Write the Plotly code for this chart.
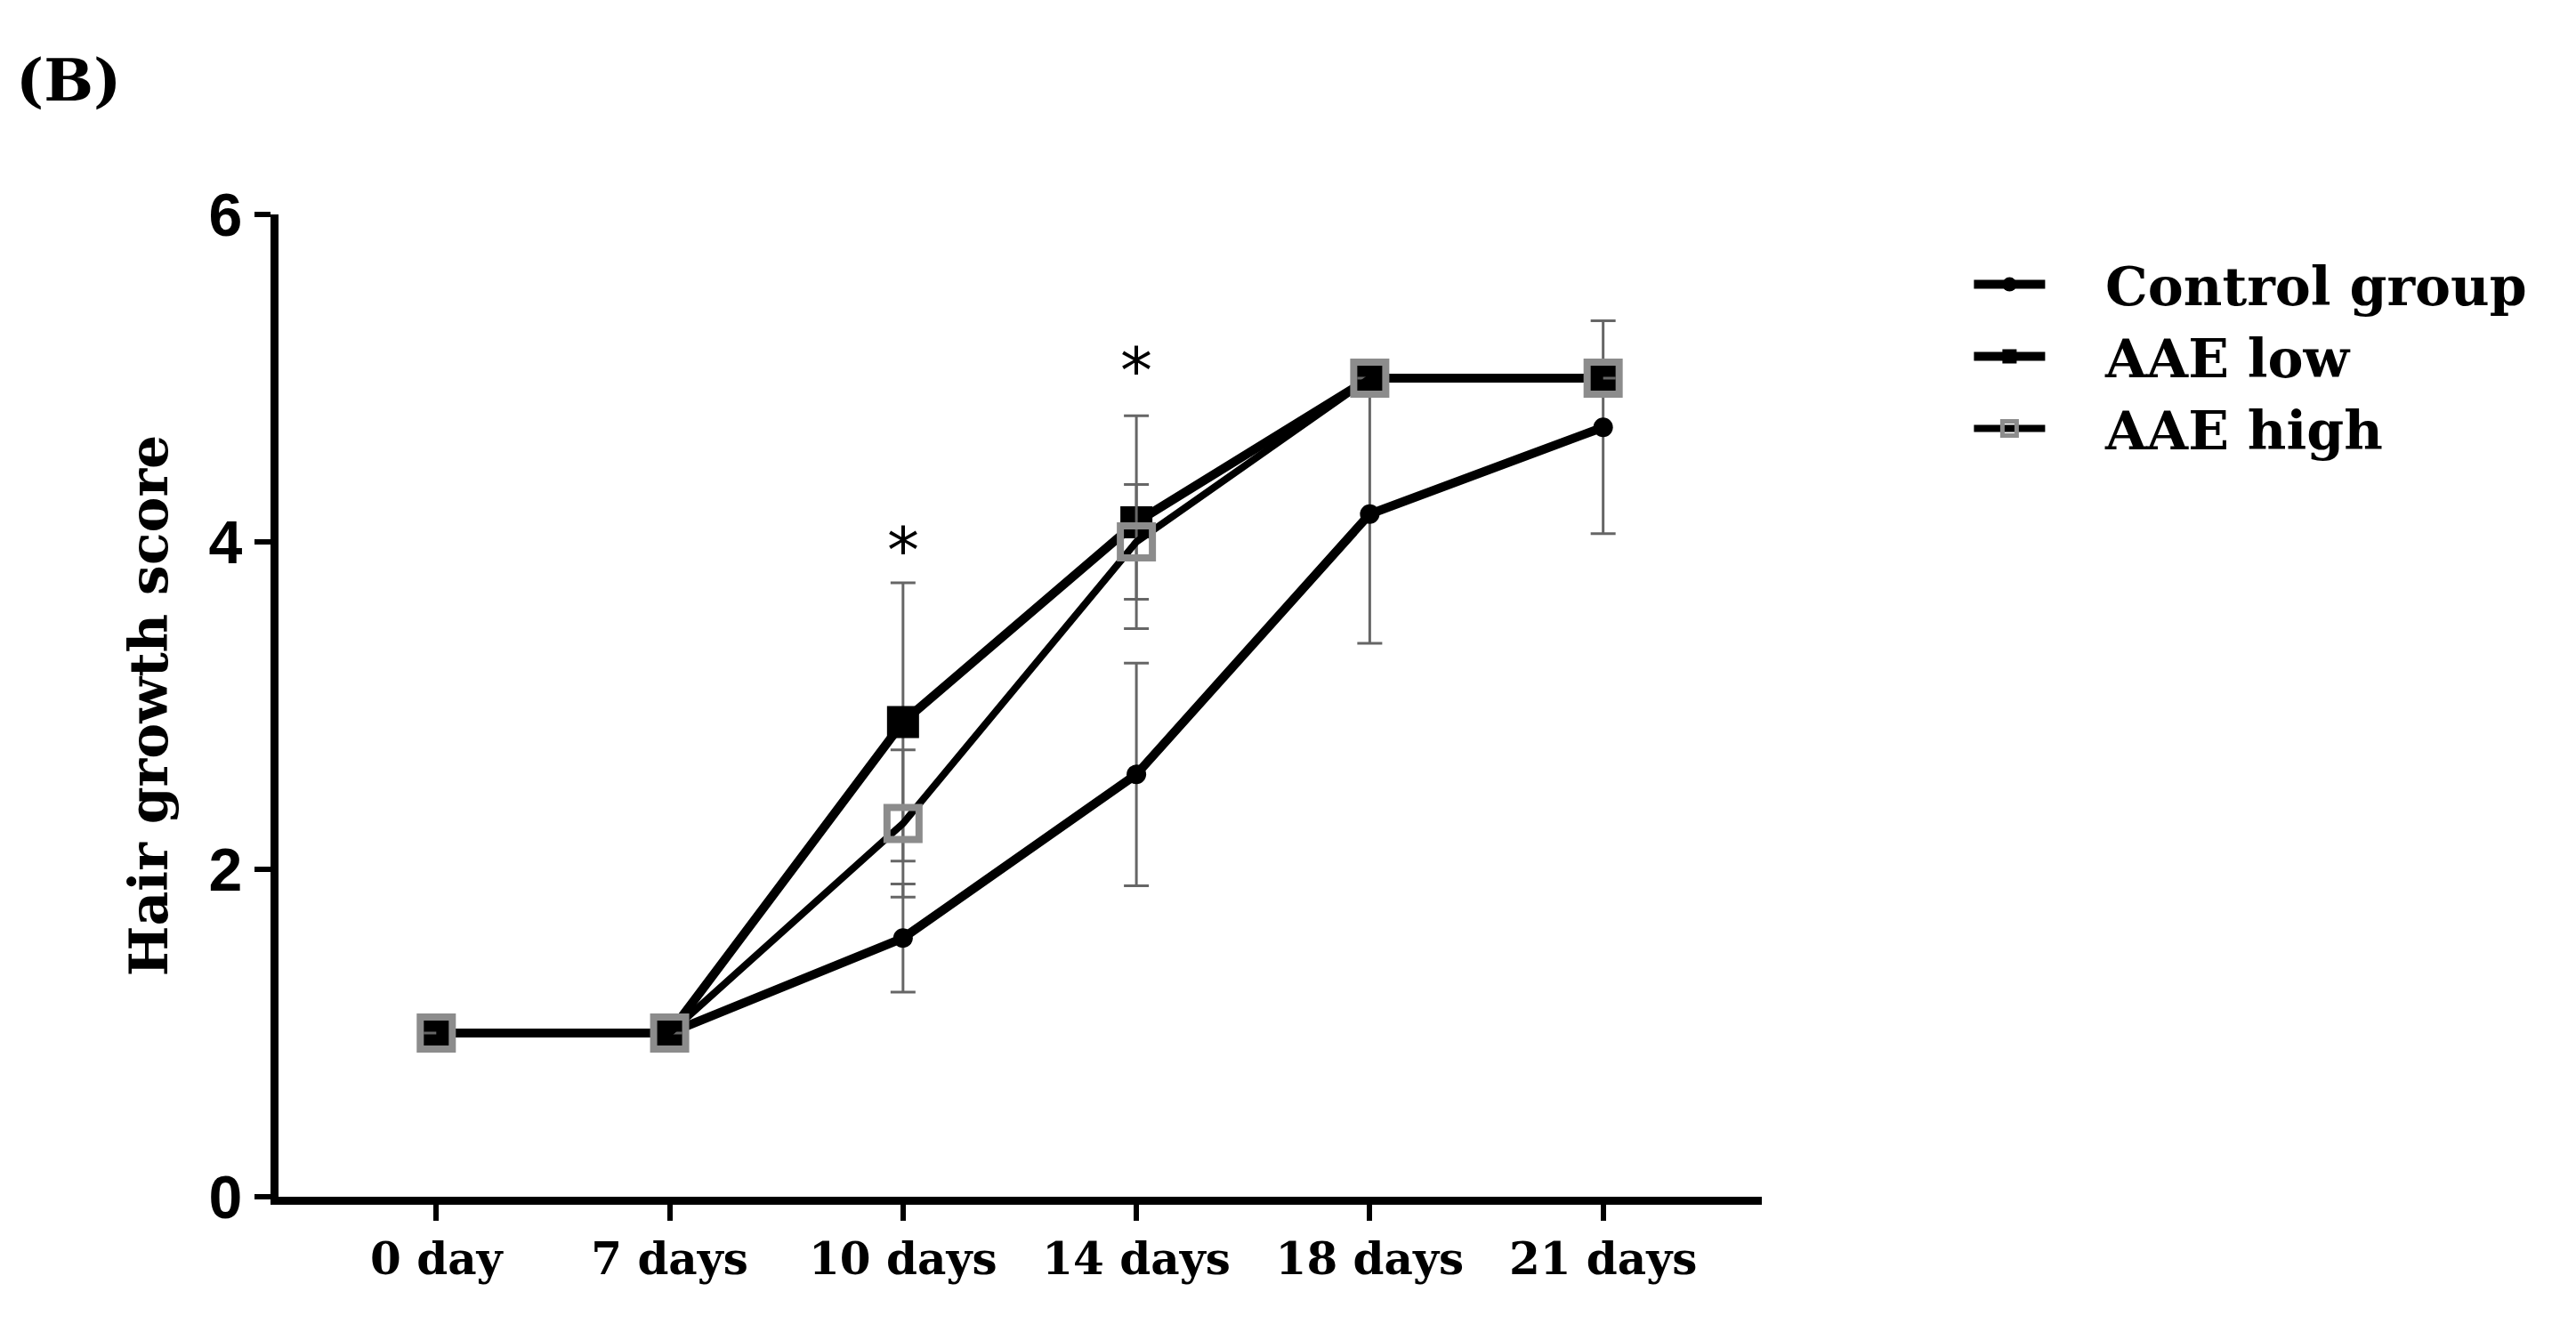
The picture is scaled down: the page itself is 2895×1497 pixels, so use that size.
import plotly.graph_objects as go

categories = ["0 day", "7 days", "10 days", "14 days", "18 days", "21 days"]
control = [1, 1, 1.58, 2.58, 4.17, 4.70]
control_err = [0, 0, 0.33, 0.68, 0.79, 0.65]
low = [1, 1, 2.90, 4.12, 5, 5]
low_err = [0, 0, 0.85, 0.65, 0, 0]
high = [1, 1, 2.28, 4.00, 5, 5]
high_err = [0, 0, 0.45, 0.35, 0, 0]
stars_x = ["10 days", "14 days"]
stars_y = [3.95, 5.05]

xi = list(range(len(categories)))
fig = go.Figure()
ebar = dict(type="data", thickness=3, width=14, color="#666666")
fig.add_trace(go.Scatter(x=xi, y=control, name="   Control group", mode="lines+markers", legendgroup="a",
    line=dict(color="black", width=10), marker=dict(symbol="circle", size=22, color="black"),
    error_y=dict(array=control_err, **ebar)))
fig.add_trace(go.Scatter(x=xi, y=low, name="   AAE low", mode="lines+markers", legendgroup="b",
    line=dict(color="black", width=10), marker=dict(symbol="square", size=36, color="black"),
    error_y=dict(array=low_err, **ebar)))
fig.add_trace(go.Scatter(x=xi, y=high, name="   AAE high", mode="lines+markers", legendgroup="c",
    line=dict(color="black", width=8),
    marker=dict(symbol="square-open", size=36, color="#8c8c8c", line=dict(width=8, color="#8c8c8c")),
    error_y=dict(array=high_err, **ebar)))

for sx, sy in zip(stars_x, stars_y):
    fig.add_annotation(x=categories.index(sx), y=sy, text="*", showarrow=False,
                       font=dict(size=72, family="DejaVu Sans", color="black"))

fig.add_annotation(xref="paper", yref="paper", x=-0.178, y=1.10, xanchor="left", yanchor="bottom",
                   text="<b>(B)</b>", showarrow=False,
                   font=dict(size=66, family="DejaVu Serif", color="black"))

fig.update_layout(
    width=2895, height=1497, plot_bgcolor="white", paper_bgcolor="white",
    margin=dict(l=305, r=923, t=233, b=160),
    legend=dict(x=1.14, y=0.97, xanchor="left", yanchor="top", traceorder="normal",
                font=dict(size=60, family="DejaVu Serif", color="black", weight="bold"),
                itemwidth=80, tracegroupgap=60),
    showlegend=True,
)
fig.update_xaxes(tickmode="array", tickvals=xi, ticktext=categories,
                 range=[-0.676, 5.68], showline=True, linewidth=9, linecolor="black",
                 ticks="outside", ticklen=18, tickwidth=6, tickcolor="black",
                 showgrid=False, zeroline=False,
                 tickfont=dict(size=50, family="DejaVu Serif", color="black", weight="bold"))
fig.update_yaxes(range=[0, 6], tickvals=[0, 2, 4, 6], showline=True, linewidth=9, linecolor="black",
                 ticks="outside", ticklen=18, tickwidth=6, tickcolor="black",
                 showgrid=False, zeroline=False,
                 tickfont=dict(size=68, family="Liberation Sans", color="black", weight="bold"),
                 title=dict(text="<b>Hair growth score</b>", standoff=30,
                            font=dict(size=60, family="DejaVu Serif", color="black")))
fig.write_html("out.html")
